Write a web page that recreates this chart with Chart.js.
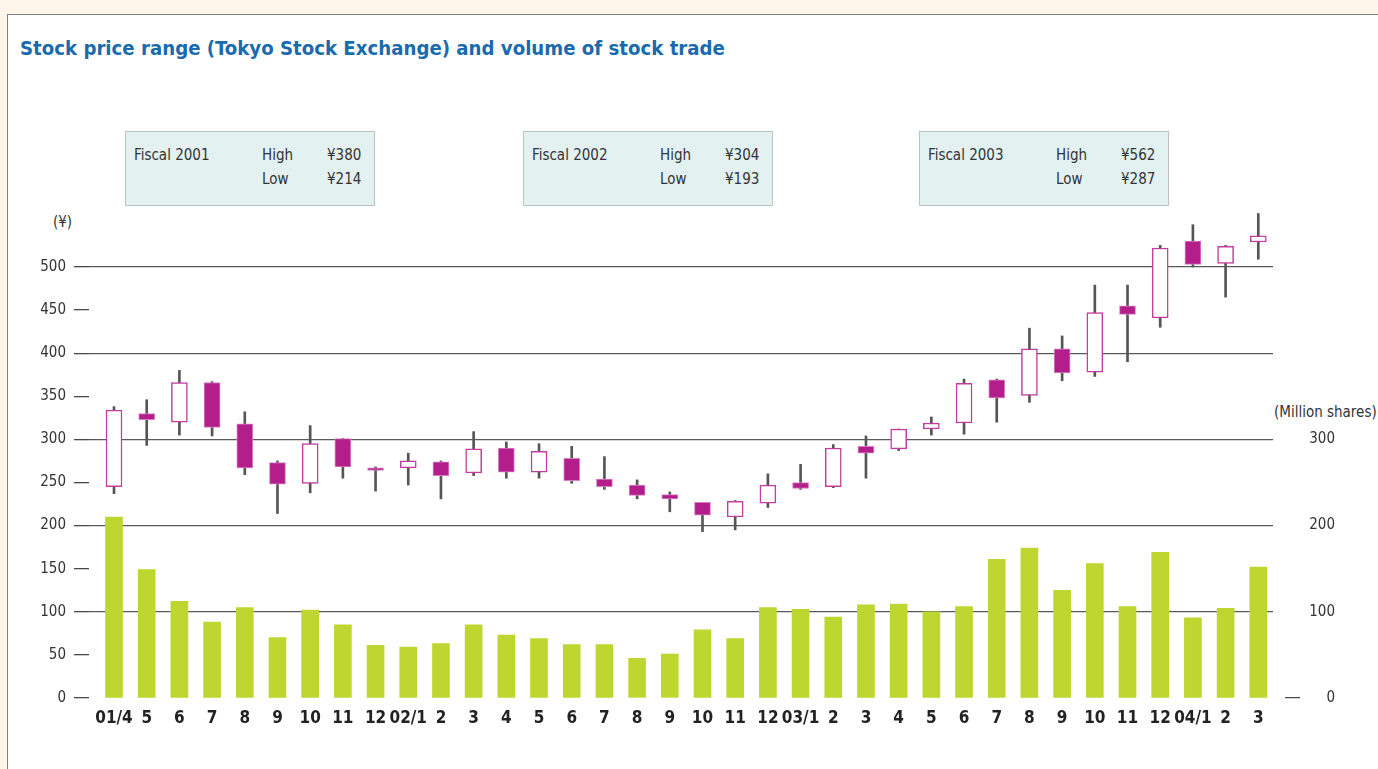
<!DOCTYPE html>
<html>
<head>
<meta charset="utf-8">
<script src="https://cdn.jsdelivr.net/npm/chart.js@4"></script>
<style>
html,body{margin:0;padding:0;background:#fdf6e9;width:1378px;height:769px;overflow:hidden;
  font-family:'Liberation Sans Narrow','DejaVu Sans Condensed','Roboto',sans-serif;}
#panel{position:absolute;left:7px;top:14px;width:1400px;height:800px;background:#fff;border:1.5px solid #808080;}
#title{position:absolute;left:20px;top:36px;font-size:20.2px;font-weight:bold;color:#1a6aae;white-space:nowrap;}
.box{position:absolute;top:131px;width:248px;height:73px;background:#e3f2f0;border:1px solid #b8c4c4;}
.box span{position:absolute;font-size:15px;color:#333;white-space:nowrap;}
.unit{position:absolute;font-size:15px;color:#333;white-space:nowrap;}
canvas{position:absolute;left:0;top:0;}
</style>
</head>
<body>
<div id="panel"></div>
<div id="title">Stock price range (Tokyo Stock Exchange) and volume of stock trade</div>
<div class="unit" style="left:53px;top:213px;">(¥)</div>
<div class="unit" style="left:1274px;top:403px;">(Million shares)</div>
<canvas id="chart" width="1378" height="769"></canvas>
<script>
// month labels, fiscal 2001 (01/4) to fiscal 2003 (04/3)
const months = ['01/4','5','6','7','8','9','10','11','12','02/1','2','3',
  '4','5','6','7','8','9','10','11','12','03/1','2','3',
  '4','5','6','7','8','9','10','11','12','04/1','2','3'];

// monthly prices (yen)
const open  = [245,330,320,366,318,273,249,301,267,267,274,261,
  290,262,278,254,247,236,227,210,226,250,245,292,
  289,312,319,369,351,405,378,455,441,530,504,529];
const close = [334,323,366,314,267,248,295,268,264,275,258,289,
  262,286,252,245,235,231,212,228,247,243,290,284,
  312,319,365,348,405,377,447,445,522,503,524,536];
const high  = [338,346,380,367,332,275,316,301,268,284,275,309,
  297,295,292,280,253,239,227,229,260,271,294,304,
  312,326,370,370,429,420,479,479,525,549,525,562];
const low   = [237,293,305,304,259,214,238,255,240,247,231,258,
  255,255,249,242,231,216,193,195,221,242,244,255,
  287,305,306,320,343,368,373,390,430,500,465,509];

// monthly volume (million shares)
const volume = [210,149,112,88,105,70,102,85,61,59,63,85,
  73,69,62,62,46,51,79,69,105,103,94,108,
  109,100,106,161,174,125,156,106,169,93,104,152];

// fiscal year summary boxes
const fiscalYears = ['Fiscal 2001','Fiscal 2002','Fiscal 2003'];
const fiscalHigh = [380,304,562];
const fiscalLow = [214,193,287];

const priceTicks = [0,50,100,150,200,250,300,350,400,450,500];
const volumeTicks = [0,100,200,300];

const boxLeft = [125,523,919];
fiscalYears.forEach((fy, i) => {
  const b = document.createElement('div');
  b.className = 'box';
  b.style.left = boxLeft[i] + 'px';
  b.innerHTML =
    '<span style="left:8px;top:14px">' + fy + '</span>' +
    '<span style="left:136px;top:14px">High</span>' +
    '<span style="left:201px;top:14px">¥' + fiscalHigh[i] + '</span>' +
    '<span style="left:136px;top:38px">Low</span>' +
    '<span style="left:201px;top:38px">¥' + fiscalLow[i] + '</span>';
  document.body.appendChild(b);
});

const MAGENTA = '#b31e8b';
const font = "'Liberation Sans Narrow','DejaVu Sans Condensed','Roboto',sans-serif";
const clear = 'rgba(0,0,0,0)';

new Chart(document.getElementById('chart'), {
  type: 'bar',
  data: {
    datasets: [
      {
        label: 'body',
        data: months.map((m, i) => ({x: i, y: [open[i], close[i]]})),
        yAxisID: 'y',
        grouped: false,
        order: 1,
        barThickness: 16,
        borderSkipped: false,
        backgroundColor: months.map((m, i) => close[i] >= open[i] ? '#ffffff' : MAGENTA),
        borderColor: months.map((m, i) => close[i] >= open[i] ? '#c43c9e' : '#d77fc4'),
        borderWidth: months.map((m, i) => close[i] >= open[i] ? 1.5 : 1)
      },
      {
        label: 'range',
        data: months.map((m, i) => ({x: i, y: [low[i], high[i]]})),
        yAxisID: 'y',
        grouped: false,
        order: 2,
        barThickness: 2,
        backgroundColor: '#555555'
      },
      {
        label: 'volume',
        data: months.map((m, i) => ({x: i, y: volume[i]})),
        yAxisID: 'y1',
        grouped: false,
        order: 3,
        barThickness: 17,
        backgroundColor: '#bed730'
      }
    ]
  },
  options: {
    responsive: false,
    animation: false,
    devicePixelRatio: 1,
    layout: {padding: {left: 0, right: 43, top: 198, bottom: 31}},
    plugins: {legend: {display: false}, tooltip: {enabled: false}},
    scales: {
      x: {
        type: 'linear',
        offset: false,
        min: -0.765,
        max: 35.45,
        grid: {display: false, drawTicks: false},
        border: {display: false},
        afterBuildTicks: s => { s.ticks = months.map((m, i) => ({value: i})); },
        afterFit: s => { s.height = 40; },
        ticks: {
          autoSkip: false, maxRotation: 0, padding: 10, color: '#222',
          font: {family: font, size: 17, weight: 'bold'},
          callback: v => months[v]
        }
      },
      y: {
        position: 'left',
        min: 0,
        max: 580,
        afterBuildTicks: s => { s.ticks = priceTicks.map(v => ({value: v})); },
        afterFit: s => { s.width = 89; },
        border: {display: false},
        grid: {
          color: c => (c.tick && c.tick.value > 0 && c.tick.value % 100 === 0) ? '#5a5a5a' : clear,
          tickColor: '#4a4a4a',
          tickLength: 15,
          lineWidth: 1.3
        },
        ticks: {color: '#333', padding: 8, font: {family: font, size: 15}}
      },
      y1: {
        position: 'right',
        min: 0,
        max: 580,
        afterBuildTicks: s => { s.ticks = volumeTicks.map(v => ({value: v})); },
        afterFit: s => { s.width = 62; },
        border: {display: false},
        grid: {
          drawOnChartArea: false,
          tickLength: 27,
          tickColor: c => (c.tick && c.tick.value === 0) ? '#4a4a4a' : clear,
          tickBorderDash: [0, 12, 15, 100],
          lineWidth: 1.3
        },
        ticks: {color: '#333', crossAlign: 'far', font: {family: font, size: 15}}
      }
    }
  }
});
</script>
</body>
</html>
